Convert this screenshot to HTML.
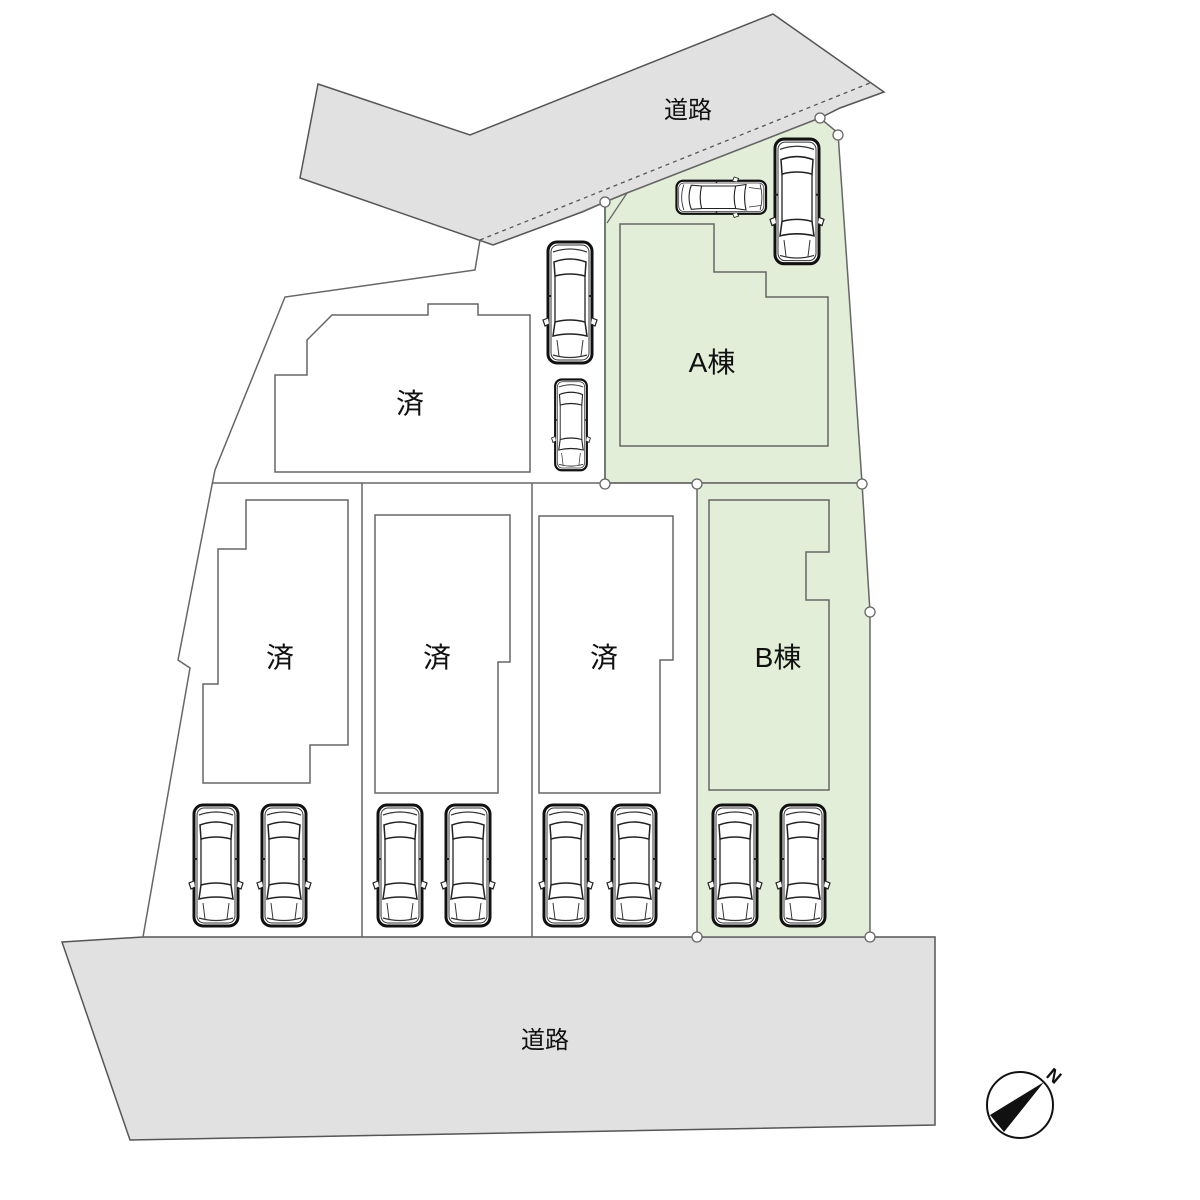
<!DOCTYPE html>
<html><head><meta charset="utf-8"><style>
html,body{margin:0;padding:0;background:#fff;}
svg{display:block;}
text{font-family:"Liberation Sans","Noto Sans CJK JP",sans-serif;fill:#111;}
</style></head><body>
<svg width="1200" height="1200" viewBox="0 0 1200 1200" xmlns="http://www.w3.org/2000/svg">
<defs>
<g id="car">
 <rect x="3" y="2" width="44" height="121" rx="9" fill="#fff" stroke="#111" stroke-width="3"/>
 <rect x="6" y="5" width="38" height="115" rx="7" fill="none" stroke="#333" stroke-width="1"/>
 <path d="M8 12 Q25 6 42 12" fill="none" stroke="#333" stroke-width="1.2"/>
 <path d="M9 22 Q25 16 41 22 L40 36 Q25 32 10 36 Z" fill="#fff" stroke="#222" stroke-width="1.5"/>
 <path d="M10 36 L10 82 M40 36 L40 82" stroke="#222" stroke-width="1.3"/>
 <path d="M10 82 Q25 78 40 82 L42 96 Q25 92 8 96 Z" fill="#fff" stroke="#222" stroke-width="1.5"/>
 <path d="M12 100 L14 116 M38 100 L36 116" stroke="#333" stroke-width="1"/>
 <path d="M8 115 Q25 120 42 115" fill="none" stroke="#333" stroke-width="1.2"/>
 <path d="M3 78 L-2 80 L0 86 L4 84 M47 78 L52 80 L50 86 L46 84" fill="#fff" stroke="#222" stroke-width="1.2"/>
 <path d="M3 56 L6 56 M44 56 L47 56" stroke="#222" stroke-width="2"/>
</g>
</defs>
<!-- top road -->
<polygon points="318,84 470,135 773,14 884,92 840,108 820,118 627,193 605,202 582,212 493,245 300,178" fill="#e1e1e1" stroke="#555" stroke-width="1.5"/>
<line x1="480" y1="240" x2="870" y2="83" stroke="#555" stroke-width="1.3" stroke-dasharray="4,4"/>
<text x="688" y="118" font-size="24" text-anchor="middle">道路</text>
<!-- bottom road -->
<polygon points="62,942 143,937 935,937 935,1125 130,1140" fill="#e1e1e1" stroke="#555" stroke-width="1.5"/>
<text x="545" y="1048" font-size="24" text-anchor="middle">道路</text>
<!-- green lots -->
<polygon points="627,193 820,118 838,133 862,483 605,483 605,202" fill="#e2eed8" stroke="#666" stroke-width="1.5"/>
<line x1="627" y1="193" x2="607" y2="223" stroke="#666" stroke-width="1.3"/>
<polygon points="697,483 862,483 870,612 870,937 697,937" fill="#e2eed8" stroke="#666" stroke-width="1.5"/>
<!-- left boundary -->
<polyline points="582,212 605,202 605,483" fill="none" stroke="#666" stroke-width="1.5"/>
<polyline points="480,240 475,270 285,297 215,470 212,485 178,660 190,668 143,937" fill="none" stroke="#666" stroke-width="1.5"/>
<line x1="212" y1="483" x2="697" y2="483" stroke="#666" stroke-width="1.5"/>
<line x1="362" y1="483" x2="362" y2="937" stroke="#666" stroke-width="1.5"/>
<line x1="532" y1="483" x2="532" y2="937" stroke="#666" stroke-width="1.5"/>
<!-- buildings -->
<g fill="none" stroke="#666" stroke-width="1.5">
<polygon points="275,375 307,375 307,340 332,315 428,315 428,304 478,304 478,315 530,315 530,472 275,472"/>
<polygon points="246,500 348,500 348,745 310,745 310,783 203,783 203,684 218,684 218,549 246,549"/>
<polygon points="375,515 510,515 510,662 498,662 498,793 375,793"/>
<polygon points="539,516 673,516 673,660 660,660 660,793 539,793"/>
<polygon points="620,224 714,224 714,272 766,272 766,297 828,297 828,446 620,446"/>
<polygon points="709,500 829,500 829,552 806,552 806,600 829,600 829,790 709,790"/>
</g>
<g font-size="28" text-anchor="middle">
<text x="410" y="413">済</text>
<text x="280" y="667">済</text>
<text x="437" y="667">済</text>
<text x="604" y="667">済</text>
<text x="712" y="372">A棟</text>
<text x="778" y="667">B棟</text>
</g>
<!-- cars -->
<use href="#car" transform="translate(191,803)"/>
<use href="#car" transform="translate(259,803)"/>
<use href="#car" transform="translate(375,803)"/>
<use href="#car" transform="translate(443,803)"/>
<use href="#car" transform="translate(541,803)"/>
<use href="#car" transform="translate(609,803)"/>
<use href="#car" transform="translate(710,803)"/>
<use href="#car" transform="translate(778,803)"/>
<use href="#car" transform="translate(545,240)"/>
<use href="#car" transform="translate(553,378) scale(0.72,0.75)"/>
<use href="#car" transform="translate(772,137) scale(1,1.03)"/>
<use href="#car" transform="translate(675,216) rotate(-90) scale(0.75,0.74)"/>
<!-- markers -->
<g fill="#fff" stroke="#666" stroke-width="1.3">
<circle cx="605" cy="202" r="5"/><circle cx="820" cy="118" r="5"/><circle cx="838" cy="135" r="5"/>
<circle cx="605" cy="484" r="5"/><circle cx="697" cy="484" r="5"/><circle cx="862" cy="484" r="5"/>
<circle cx="870" cy="612" r="5"/><circle cx="697" cy="937" r="5"/><circle cx="870" cy="937" r="5"/>
</g>
<!-- compass -->
<circle cx="1020" cy="1105" r="33" fill="#fff" stroke="#111" stroke-width="2"/>
<polygon points="1044,1082 990,1115 1004,1132" fill="#111"/>
<text x="1054" y="1082" font-size="18" font-weight="bold" text-anchor="middle" transform="rotate(40 1054 1076)">N</text>
</svg>
</body></html>
